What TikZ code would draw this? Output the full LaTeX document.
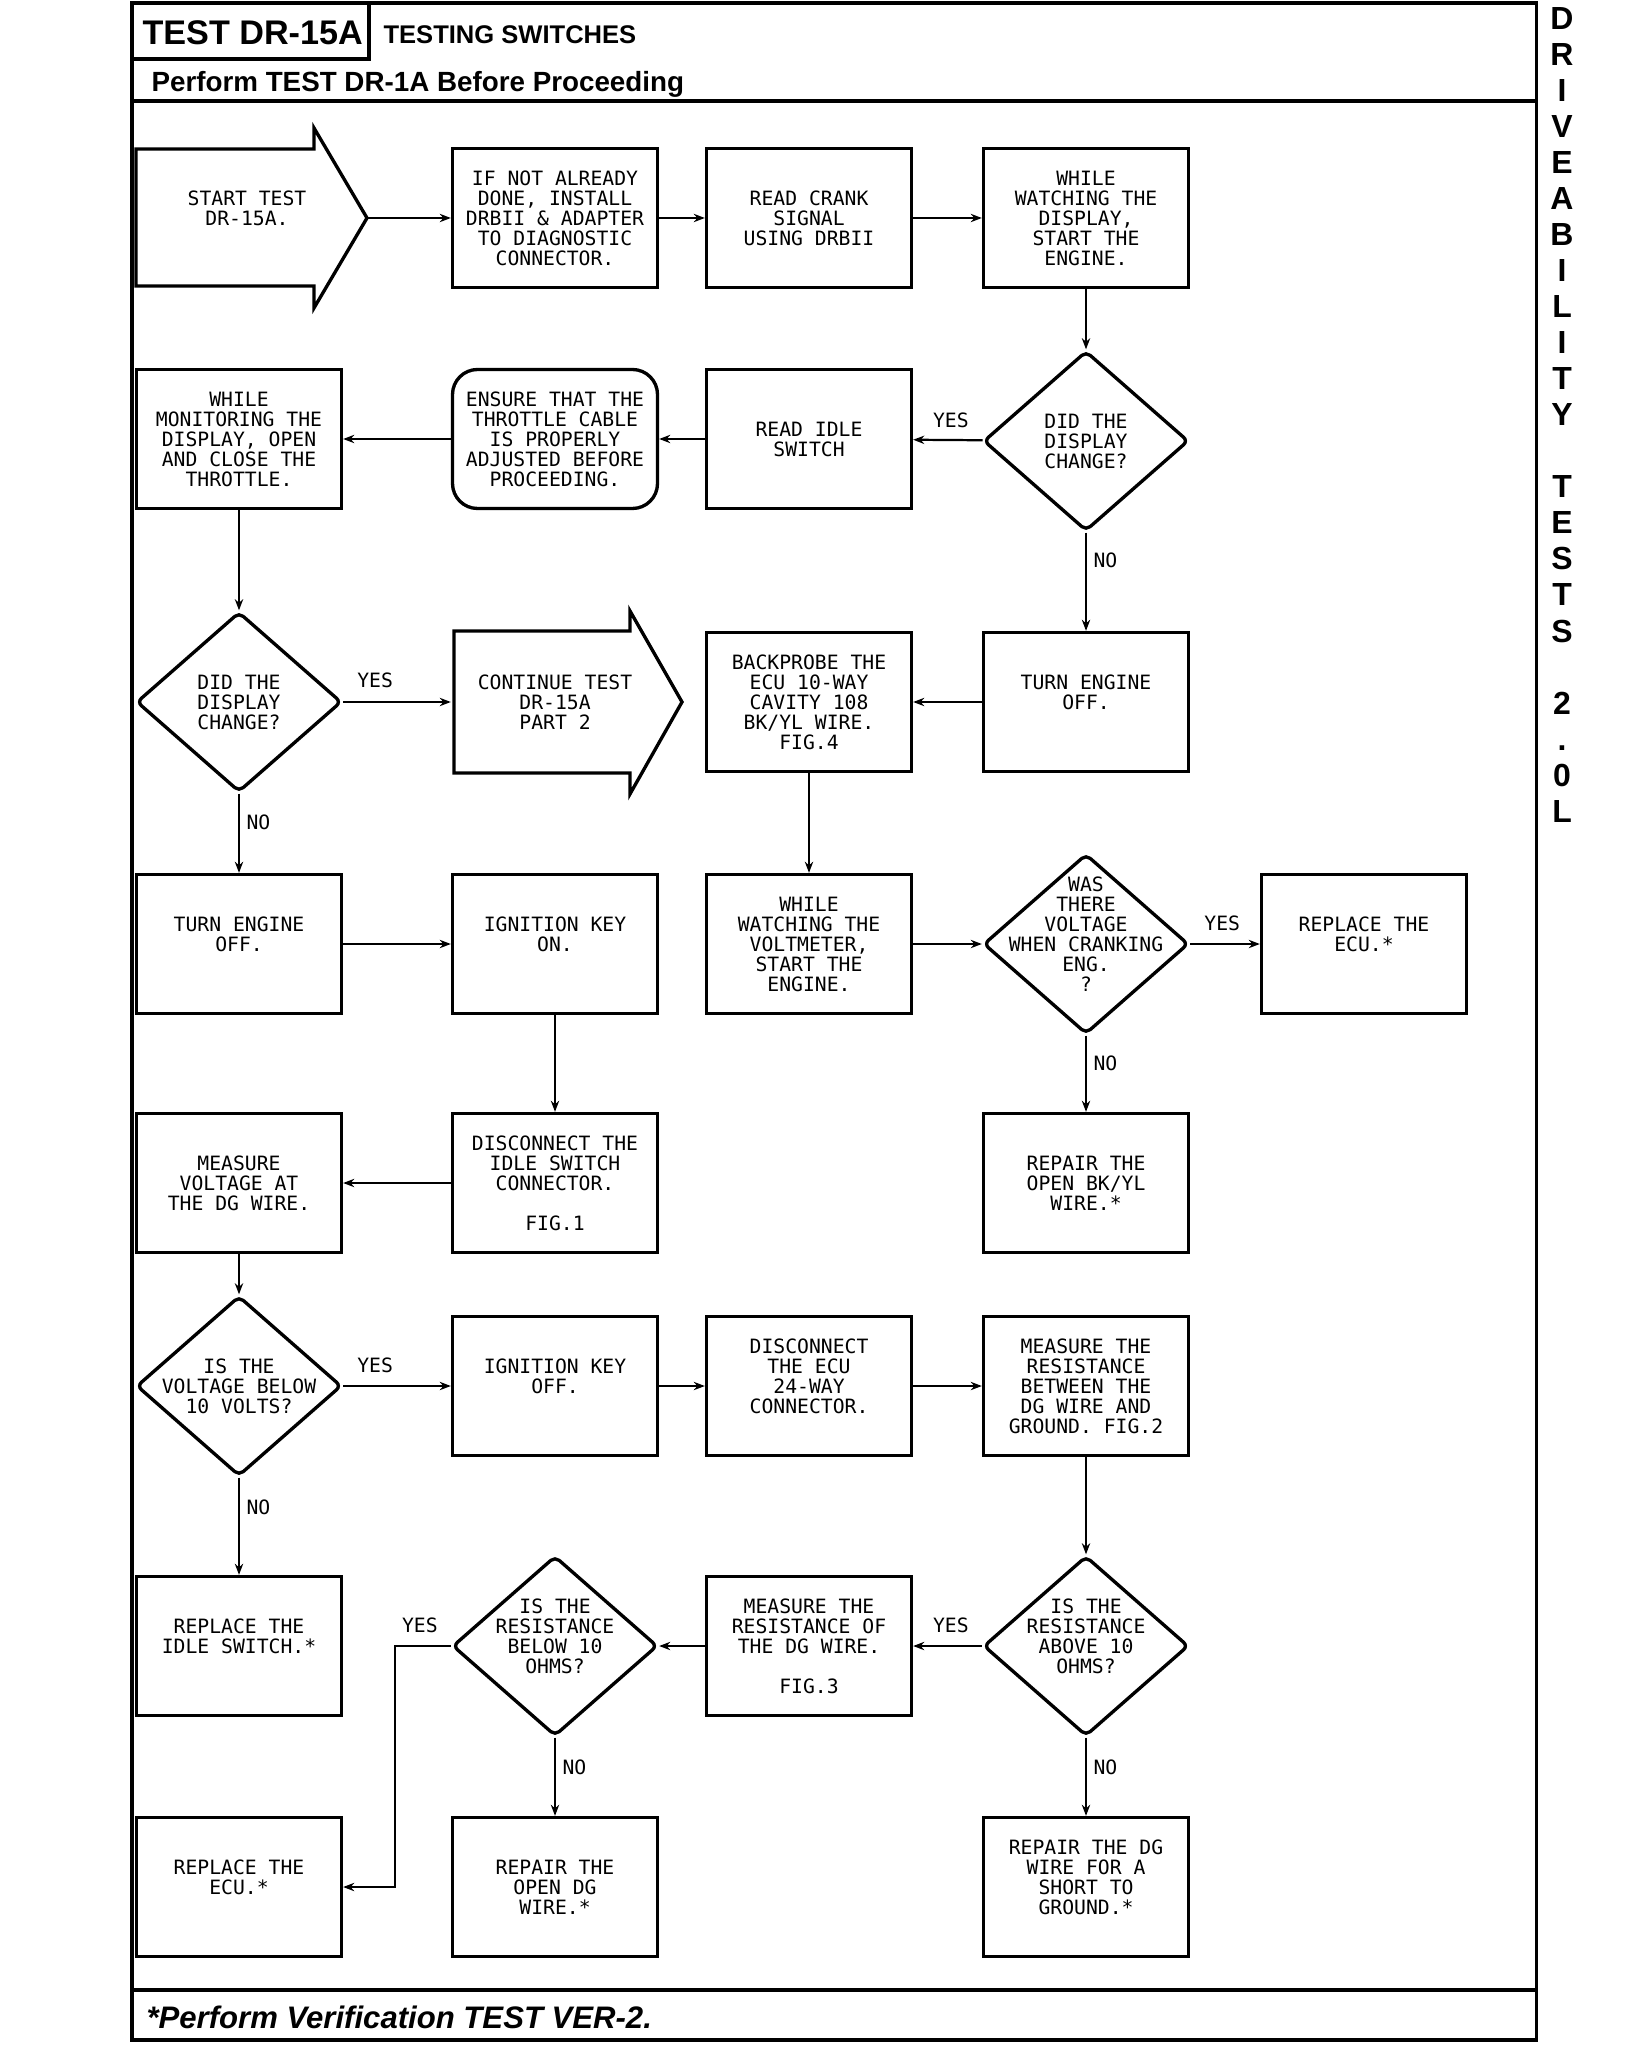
\documentclass[tikz,border=0pt]{standalone}
\usepackage{fontspec}
\setmainfont{Liberation Sans}
\newfontfamily\plotfont{DejaVu Sans Mono}
\usetikzlibrary{shapes.geometric,arrows.meta}
\def\ux{0.36pt}
\tikzset{
  pfont/.style={font=\plotfont\fontsize{7.1}{7.2}\selectfont},
  blk/.style={draw,line width=1.2pt,minimum width=205*\ux,minimum height=139*\ux,inner sep=0pt,align=center,pfont},
  dmd/.style={draw,diamond,line width=1.2pt,minimum width=205*\ux,minimum height=180*\ux,inner sep=0pt,rounded corners=2pt},
  dtx/.style={align=center,inner sep=0pt,pfont},
  yn/.style={inner sep=0pt,pfont},
  ln/.style={line width=0.8pt,->},
  frm/.style={line width=1.1pt},
  vt/.style={anchor=base,inner sep=0pt,font=\bfseries\fontsize{11.5}{12}\selectfont}
}
\begin{document}
\begin{tikzpicture}[x=\ux,y=-\ux,>={Stealth[length=4pt,width=3pt]}]
\useasboundingbox (0,0) rectangle (1632,2050);
% frame and headings
\draw[frm] (132,3) rectangle (1536,2040);
\draw[frm] (369,3) -- (369,59) -- (132,59);
\draw[frm] (132,101) -- (1536,101);
\draw[frm] (132,1990) -- (1536,1990);
\node[anchor=base west,inner sep=0pt,font=\bfseries\fontsize{12.3}{14}\selectfont] (ttl) at (142,45) {TEST DR-15A};
\node[anchor=base west,inner sep=0pt,font=\bfseries\fontsize{9.2}{11}\selectfont] (sub) at (383,44) {TESTING SWITCHES};
\node[anchor=base west,inner sep=0pt,font=\bfseries\fontsize{10}{12}\selectfont] (pre) at (151,92) {Perform TEST DR-1A Before Proceeding};
\node[anchor=base west,inner sep=0pt,font=\bfseries\itshape\fontsize{11.2}{13}\selectfont] (foot) at (146,2028) {*Perform Verification TEST VER-2.};
\foreach \c/\k in {D/0,R/1,I/2,V/3,E/4,A/5,B/6,I/7,L/8,I/9,T/10,Y/11,T/13,E/14,S/15,T/16,S/17,2/19,./20,0/21,L/22}
  \node[vt] (v\k) at (1562,30+36*\k) {\c};

% row 1
\draw[line width=1.2pt] (136,149) -- (314,149) -- (314,128) -- (367,218) -- (314,308) -- (314,286) -- (136,286) -- cycle;
\node[blk,draw=none] (start) at (247,218) {START TEST\\DR-15A.\\~};
\coordinate (tip) at (367,218);
\node[blk] (inst) at (555,218) {IF NOT ALREADY\\DONE, INSTALL\\DRBII \& ADAPTER\\TO DIAGNOSTIC\\CONNECTOR.};
\node[blk] (crank) at (809,218) {READ CRANK\\SIGNAL\\USING DRBII};
\node[blk] (watch) at (1086,218) {WHILE\\WATCHING THE\\DISPLAY,\\START THE\\ENGINE.};

% row 2
\node[dmd] (q1) at (1086,441) {};
\node[dtx] at (q1) {DID THE\\DISPLAY\\CHANGE?};
\node[blk] (idle) at (809,439) {READ IDLE\\SWITCH};
\node[blk,rounded corners=9pt] (ensure) at (555,439) {ENSURE THAT THE\\THROTTLE CABLE\\IS PROPERLY\\ADJUSTED BEFORE\\PROCEEDING.};
\node[blk] (monitor) at (239,439) {WHILE\\MONITORING THE\\DISPLAY, OPEN\\AND CLOSE THE\\THROTTLE.};

% row 3
\node[dmd] (q2) at (239,702) {};
\node[dtx] at (q2) {DID THE\\DISPLAY\\CHANGE?};
\draw[line width=1.2pt] (454,631) -- (630,631) -- (630,611) -- (682,702) -- (630,794) -- (630,773) -- (454,773) -- cycle;
\node[blk,draw=none] (cont) at (555,702) {CONTINUE TEST\\DR-15A\\PART 2};
\node[blk] (back) at (809,702) {BACKPROBE THE\\ECU 10-WAY\\CAVITY 108\\BK/YL WIRE.\\FIG.4};
\node[blk] (turn2) at (1086,702) {TURN ENGINE\\OFF.\\~};

% row 4
\node[blk] (turn1) at (239,944) {TURN ENGINE\\OFF.\\~};
\node[blk] (keyon) at (555,944) {IGNITION KEY\\ON.\\~};
\node[blk] (watchv) at (809,944) {WHILE\\WATCHING THE\\VOLTMETER,\\START THE\\ENGINE.};
\node[dmd] (q6) at (1086,944) {};
\node[dtx] at (q6) {WAS\\THERE\\VOLTAGE\\WHEN CRANKING\\ENG.\\?\\~};
\node[blk] (ecu1) at (1364,944) {REPLACE THE\\ECU.*\\~};

% row 5
\node[blk] (measv) at (239,1183) {MEASURE\\VOLTAGE AT\\THE DG WIRE.};
\node[blk] (disc1) at (555,1183) {DISCONNECT THE\\IDLE SWITCH\\CONNECTOR.\\~\\FIG.1};
\node[blk] (repbk) at (1086,1183) {REPAIR THE\\OPEN BK/YL\\WIRE.*};

% row 6
\node[dmd] (q3) at (239,1386) {};
\node[dtx] at (q3) {IS THE\\VOLTAGE BELOW\\10 VOLTS?};
\node[blk] (keyoff) at (555,1386) {IGNITION KEY\\OFF.\\~};
\node[blk] (disc2) at (809,1386) {DISCONNECT\\THE ECU\\24-WAY\\CONNECTOR.\\~};
\node[blk] (measr) at (1086,1386) {MEASURE THE\\RESISTANCE\\BETWEEN THE\\DG WIRE AND\\GROUND. FIG.2};

% row 7
\node[blk] (repidle) at (239,1646) {REPLACE THE\\IDLE SWITCH.*\\~};
\node[dmd] (q5) at (555,1646) {};
\node[dtx] at (q5) {IS THE\\RESISTANCE\\BELOW 10\\OHMS?\\~};
\node[blk] (measdg) at (809,1646) {MEASURE THE\\RESISTANCE OF\\THE DG WIRE.\\~\\FIG.3};
\node[dmd] (q4) at (1086,1646) {};
\node[dtx] at (q4) {IS THE\\RESISTANCE\\ABOVE 10\\OHMS?\\~};

% row 8
\node[blk] (ecu2) at (239,1887) {REPLACE THE\\ECU.*\\~};
\node[blk] (repdg) at (555,1887) {REPAIR THE\\OPEN DG\\WIRE.*};
\node[blk] (repshort) at (1086,1887) {REPAIR THE DG\\WIRE FOR A\\SHORT TO\\GROUND.*\\~};

% connectors
\draw[ln] (tip) -- (inst);
\draw[ln] (inst) -- (crank);
\draw[ln] (crank) -- (watch);
\draw[ln] (watch) -- (q1);
\draw[ln] (q1) -- (idle);
\draw[ln] (idle) -- (ensure);
\draw[ln] (ensure) -- (monitor);
\draw[ln] (monitor) -- (q2);
\draw[ln] (q2) -- (cont);
\draw[ln] (q2) -- (turn1);
\draw[ln] (q1) -- (turn2);
\draw[ln] (turn2) -- (back);
\draw[ln] (back) -- (watchv);
\draw[ln] (watchv) -- (q6);
\draw[ln] (q6) -- (ecu1);
\draw[ln] (q6) -- (repbk);
\draw[ln] (turn1) -- (keyon);
\draw[ln] (keyon) -- (disc1);
\draw[ln] (disc1) -- (measv);
\draw[ln] (measv) -- (q3);
\draw[ln] (q3) -- (keyoff);
\draw[ln] (keyoff) -- (disc2);
\draw[ln] (disc2) -- (measr);
\draw[ln] (measr) -- (q4);
\draw[ln] (q3) -- (repidle);
\draw[ln] (q4) -- (measdg);
\draw[ln] (measdg) -- (q5);
\draw[ln] (q5.west) -- ++(-56,0) |- (ecu2.east);
\draw[ln] (q5) -- (repdg);
\draw[ln] (q4) -- (repshort);

% yes / no
\node[yn] at ([shift={(-31,-21)}]q1.west) {YES};
\node[yn] at ([shift={(32,-22)}]q2.east) {YES};
\node[yn] at ([shift={(32,-21)}]q6.east) {YES};
\node[yn] at ([shift={(32,-21)}]q3.east) {YES};
\node[yn] at ([shift={(-31,-21)}]q4.west) {YES};
\node[yn] at ([shift={(-31,-21)}]q5.west) {YES};
\node[yn,anchor=west] at ([shift={(7,28)}]q1.south) {NO};
\node[yn,anchor=west] at ([shift={(7,29)}]q2.south) {NO};
\node[yn,anchor=west] at ([shift={(7,28)}]q6.south) {NO};
\node[yn,anchor=west] at ([shift={(7,30)}]q3.south) {NO};
\node[yn,anchor=west] at ([shift={(7,30)}]q5.south) {NO};
\node[yn,anchor=west] at ([shift={(7,30)}]q4.south) {NO};
\end{tikzpicture}
\end{document}
